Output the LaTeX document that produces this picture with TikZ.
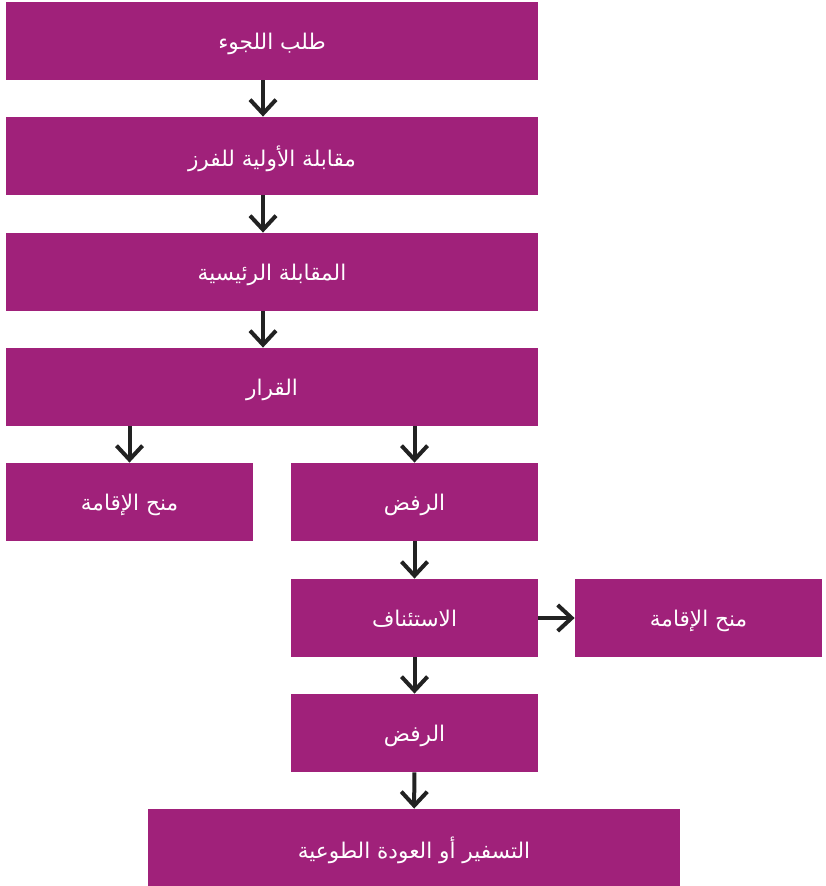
\documentclass[tikz,border=0pt]{standalone}
\usepackage{fontspec}
\setmainfont{DejaVu Sans}
\newfontfamily\arabicfont[Script=Arabic]{DejaVu Sans}
\TeXXeTstate=1
\usetikzlibrary{arrows.meta}
\definecolor{plum}{HTML}{A0217A}
\definecolor{ink}{HTML}{222222}
\tikzset{
  box/.style={fill=plum, text=white, minimum height=39pt, inner sep=0pt,
    text depth=0pt, font=\arabicfont\fontsize{10.8}{13}\selectfont},
  wide/.style={box, minimum width=266pt},
  half/.style={box, minimum width=123.5pt},
  arr/.style={draw=ink, line width=2pt, -{Straight Barb[length=7pt,width=13pt]}}
}
\begin{document}
\begin{tikzpicture}[x=0.5pt, y=-0.5pt]
\useasboundingbox (0,0) rectangle (825,886);
\node[wide] (apply) at (272,41) {\beginR طلب اللجوء\endR};
\node[wide] (screen) at (272,156) {\beginR مقابلة الأولية للفرز\endR};
\node[wide] (main) at (272,272) {\beginR المقابلة الرئيسية\endR};
\node[wide] (decision) at (272,387) {\beginR القرار\endR};
\node[half] (grant) at (129.5,502) {\beginR منح الإقامة\endR};
\node[half] (refusal) at (414.5,502) {\beginR الرفض\endR};
\node[half] (appeal) at (414.5,618) {\beginR الاستئناف\endR};
\node[half] (grantb) at (698.5,618) {\beginR منح الإقامة\endR};
\node[half] (refusalb) at (414.5,733) {\beginR الرفض\endR};
\node[wide, minimum height=38.5pt] (removal) at (414,847.5) {\beginR التسفير أو العودة الطوعية\endR};
\foreach \a/\b in {apply/screen, screen/main, main/decision}
  \draw[arr] ([xshift=-4.5pt]\a.south) -- ([xshift=-4.5pt]\b.north);
\foreach \a/\b in {refusal/appeal, appeal/grantb, appeal/refusalb, refusalb/removal}
  \draw[arr] (\a) -- (\b);
\foreach \b in {grant, refusal}
  \draw[arr] (decision.south -| \b) -- (\b);
\end{tikzpicture}
\end{document}
